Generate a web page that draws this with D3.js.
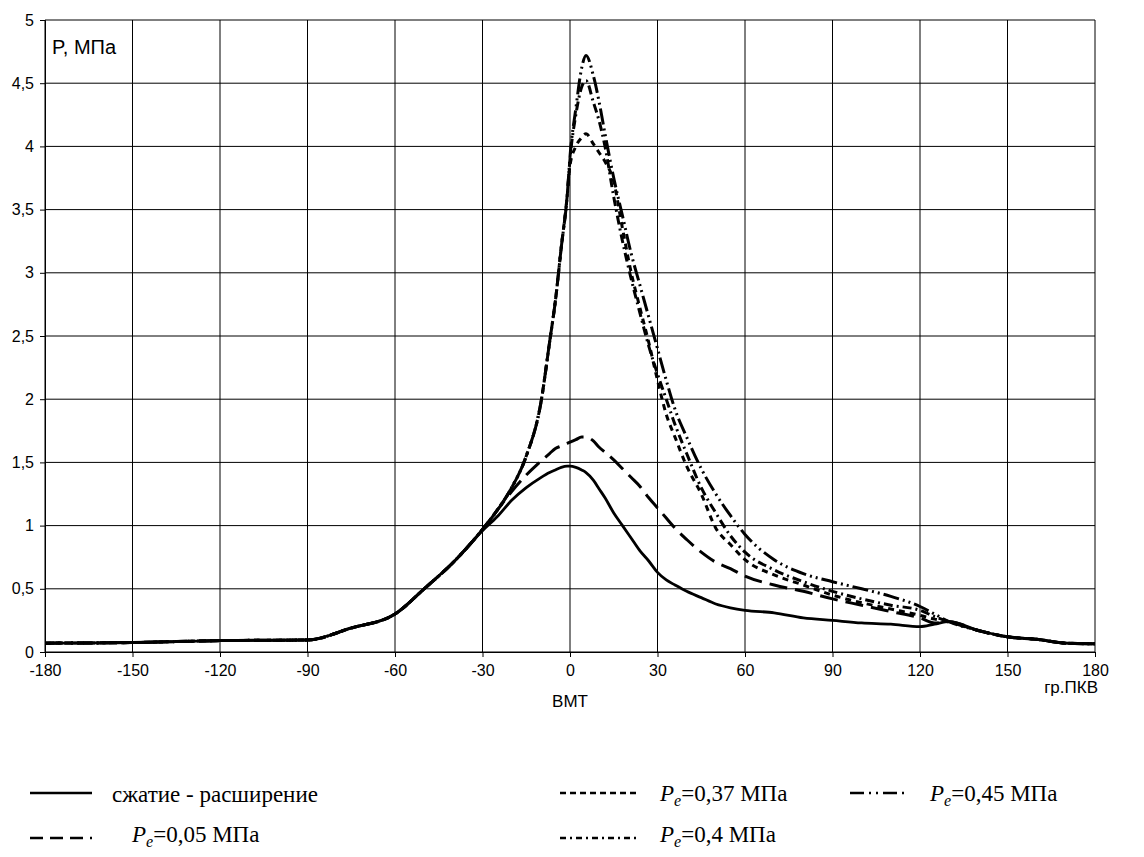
<!DOCTYPE html>
<html>
<head>
<meta charset="utf-8">
<script src="https://cdn.jsdelivr.net/npm/d3@7"></script>
<style>
  body { margin: 0; background: #fff; }
  .tick text { font-family: Arial, "Liberation Sans", sans-serif; font-size: 16px; fill: #000; }
  .axis-title { font-family: Arial, "Liberation Sans", sans-serif; font-size: 17px; fill: #000; }
  .legend-text { font-family: "Times New Roman", "Liberation Serif", serif; font-size: 23px; fill: #000; }
</style>
</head>
<body>
<div class="vis-pressure"></div>
<script>
// crank angle grid, degrees
const angles = [-180, -150, -120, -90, -75, -60, -50, -40, -30, -25, -20, -15, -10, -7, -5, -3, -1, 0,
  2, 4, 5.5, 8, 10, 12, 15, 18, 21, 24, 27, 30, 33, 36, 40, 45, 50, 55, 60, 70, 80, 90, 100, 110,
  120, 125, 130, 140, 150, 160, 170, 180];

// pressure, MPa
const motoring = [0.07, 0.075, 0.09, 0.095, 0.19, 0.30, 0.50, 0.71, 0.96, 1.07, 1.20, 1.30, 1.38, 1.42, 1.44, 1.46, 1.47, 1.47,
  1.46, 1.44, 1.42, 1.36, 1.29, 1.22, 1.10, 1.00, 0.90, 0.80, 0.72, 0.63, 0.57, 0.53, 0.48, 0.43, 0.38, 0.35, 0.33, 0.31, 0.27, 0.25, 0.23, 0.22,
  0.20, 0.22, 0.24, 0.17, 0.12, 0.10, 0.07, 0.065];
const pe005 = [0.07, 0.075, 0.09, 0.095, 0.19, 0.30, 0.50, 0.71, 0.97, 1.12, 1.27, 1.40, 1.51, 1.57, 1.61, 1.63, 1.65, 1.66,
  1.68, 1.70, 1.70, 1.67, 1.62, 1.58, 1.52, 1.45, 1.38, 1.31, 1.22, 1.14, 1.06, 0.98, 0.89, 0.79, 0.71, 0.66, 0.60, 0.53, 0.48, 0.42, 0.37, 0.32,
  0.27, 0.23, 0.24, 0.17, 0.12, 0.10, 0.07, 0.065];
const pe037 = [0.07, 0.075, 0.09, 0.095, 0.19, 0.30, 0.50, 0.71, 0.97, 1.12, 1.30, 1.55, 1.97, 2.45, 2.78, 3.20, 3.60, 3.85,
  4.00, 4.07, 4.10, 4.02, 3.95, 3.88, 3.72, 3.35, 3.00, 2.72, 2.45, 2.15, 1.88, 1.70, 1.47, 1.25, 0.98, 0.85, 0.73, 0.61, 0.53, 0.45, 0.39, 0.34,
  0.29, 0.26, 0.24, 0.17, 0.12, 0.10, 0.07, 0.065];
const pe04 = [0.07, 0.075, 0.09, 0.095, 0.19, 0.30, 0.50, 0.71, 0.97, 1.12, 1.30, 1.55, 1.97, 2.45, 2.78, 3.20, 3.60, 3.90,
  4.25, 4.47, 4.52, 4.35, 4.20, 4.00, 3.60, 3.25, 2.95, 2.68, 2.42, 2.20, 2.00, 1.80, 1.57, 1.30, 1.10, 0.92, 0.79, 0.65, 0.556, 0.48, 0.42, 0.37,
  0.33, 0.28, 0.24, 0.17, 0.12, 0.10, 0.07, 0.065];
const pe045 = [0.07, 0.075, 0.09, 0.095, 0.19, 0.30, 0.50, 0.71, 0.97, 1.12, 1.30, 1.55, 1.97, 2.45, 2.78, 3.20, 3.60, 3.92,
  4.30, 4.62, 4.72, 4.56, 4.35, 4.10, 3.75, 3.45, 3.15, 2.90, 2.65, 2.40, 2.15, 1.92, 1.70, 1.45, 1.25, 1.08, 0.93, 0.73, 0.62, 0.556, 0.50, 0.44,
  0.36, 0.30, 0.24, 0.17, 0.12, 0.10, 0.07, 0.065];

const xTicks = [-180, -150, -120, -90, -60, -30, 0, 30, 60, 90, 120, 150, 180];
const yTicks = [0, 0.5, 1, 1.5, 2, 2.5, 3, 3.5, 4, 4.5, 5];

const series = [
  { values: motoring, dash: null, legendDash: null, label: "сжатие - расширение" },
  { values: pe005, dash: "18,8", legendDash: "13,7", label: "0,05 МПа" },
  { values: pe037, dash: "6,5", legendDash: "6,4", label: "0,37 МПа" },
  { values: pe04, dash: "9,4,2,4", legendDash: "6,4,2,4", label: "0,4 МПа" },
  { values: pe045, dash: "16,4,2,4,2,4", legendDash: "14,5,2,5,2,5", label: "0,45 МПа" }
];

// legend slots: [series index, x of sample, y, sample length, text x offset]
const legendSlots = [
  [0, 30, 793, 62, 82], [1, 30, 838, 62, 102], [2, 560, 793, 77, 100], [3, 560, 838, 77, 100], [4, 850, 793, 57, 80]
];

const margin = { top: 20, right: 49, bottom: 205, left: 45 };
const W = 1144, H = 857;
const width = W - margin.left - margin.right;
const height = H - margin.top - margin.bottom;

const svg = d3.select(".vis-pressure").append("svg")
  .attr("width", W).attr("height", H);
const g = svg.append("g")
  .attr("transform", "translate(" + margin.left + "," + margin.top + ")");

const x = d3.scaleLinear().domain([-180, 180]).range([0, width]);
const y = d3.scaleLinear().domain([0, 5]).range([height, 0]);
const fmt = (d) => String(d).replace(".", ",");

// grid
g.append("g").selectAll("line").data(xTicks).enter().append("line")
  .attr("x1", (d) => x(d)).attr("x2", (d) => x(d))
  .attr("y1", 0).attr("y2", height)
  .attr("stroke", "#000").attr("stroke-width", 1);
g.append("g").selectAll("line").data(yTicks).enter().append("line")
  .attr("x1", 0).attr("x2", width)
  .attr("y1", (d) => y(d)).attr("y2", (d) => y(d))
  .attr("stroke", "#000").attr("stroke-width", 1);

// axes
g.append("g")
  .attr("transform", "translate(0," + height + ")")
  .call(d3.axisBottom(x).tickValues(xTicks).tickFormat(fmt).tickSize(5).tickPadding(8))
  .call((a) => a.select(".domain").attr("stroke", "#000"));
g.append("g")
  .call(d3.axisLeft(y).tickValues(yTicks).tickFormat(fmt).tickSize(5).tickPadding(6))
  .call((a) => a.select(".domain").attr("stroke", "#000"));

// axis titles
g.append("text").attr("class", "axis-title")
  .attr("x", 7).attr("y", 34).style("font-size", "20px").text("P, МПа");
g.append("text").attr("class", "axis-title")
  .attr("x", x(0)).attr("y", height + 55)
  .style("text-anchor", "middle").text("ВМТ");
g.append("text").attr("class", "axis-title")
  .attr("x", width + 3).attr("y", height + 41)
  .style("text-anchor", "end").text("гр.ПКВ");

// curves
const line = d3.line()
  .x((d) => x(d[0]))
  .y((d) => y(d[1]))
  .curve(d3.curveMonotoneX);

g.selectAll(".curve").data(series.slice().reverse()).enter().append("path")
  .attr("class", "curve")
  .attr("d", (s) => line(angles.map((a, i) => [a, s.values[i]])))
  .attr("fill", "none")
  .attr("stroke", "#000")
  .attr("stroke-width", (s) => (s.dash ? 3 : 2.8))
  .attr("stroke-dasharray", (s) => s.dash);

// legend
const leg = svg.append("g").selectAll("g").data(legendSlots).enter().append("g")
  .attr("transform", (d) => "translate(" + d[1] + "," + d[2] + ")");
leg.append("line")
  .attr("x1", 0).attr("x2", (d) => d[3])
  .attr("y1", 0).attr("y2", 0)
  .attr("stroke", "#000").attr("stroke-width", 2.5)
  .attr("stroke-dasharray", (d) => series[d[0]].legendDash);
leg.each(function (d) {
  const s = series[d[0]];
  const t = d3.select(this).append("text").attr("class", "legend-text")
    .attr("x", d[4]).attr("y", d[0] === 0 ? 9 : (d[2] > 800 ? 4 : 8));
  if (d[0] === 0) {
    t.text(s.label);
  } else {
    t.append("tspan").style("font-style", "italic").text("P");
    t.append("tspan").style("font-style", "italic").style("font-size", "16px")
      .attr("dy", 5).text("e");
    t.append("tspan").attr("dy", -5).text("=" + s.label);
  }
});
</script>
</body>
</html>
